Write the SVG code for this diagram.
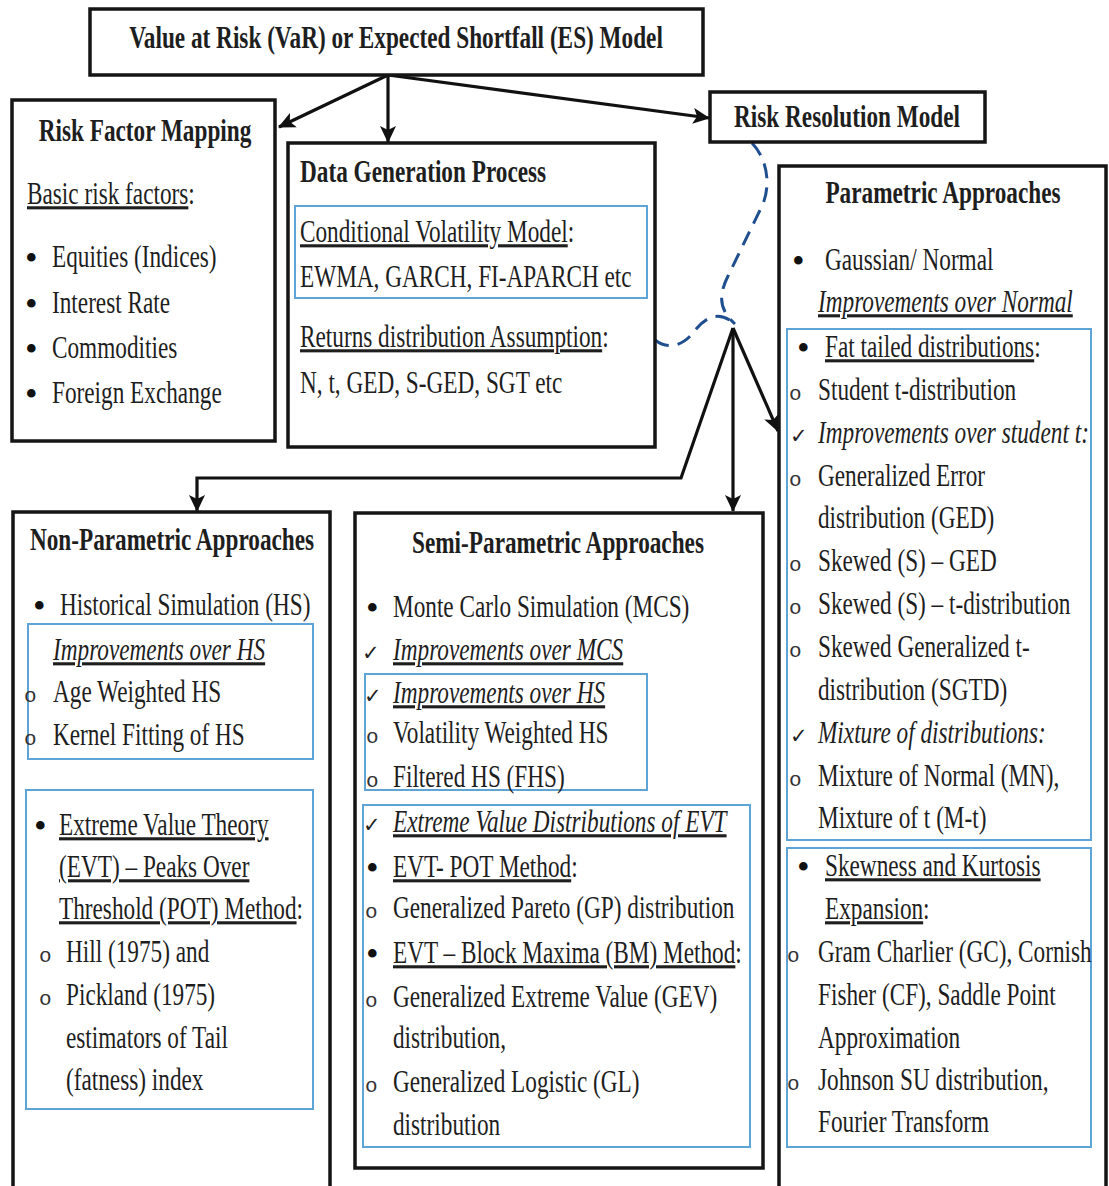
<svg xmlns="http://www.w3.org/2000/svg" width="1109" height="1186" viewBox="0 0 1109 1186">
<style>
.bg{fill:#fff}
.box{fill:#fff;stroke:#151515;stroke-width:3.5}
.blue{fill:none;stroke:#5ea4d6;stroke-width:2}
.t{font-family:"Liberation Serif","Times New Roman",serif;font-size:31px;fill:#1e1e1e}
.b{font-weight:bold}
.i{font-style:italic}
.u{text-decoration:underline}
.m{text-anchor:middle}
.d{font-family:"Liberation Serif","Times New Roman",serif;font-size:36px;fill:#111}
.o{font-family:"Liberation Mono","Courier New",monospace;font-size:21px;fill:#333}
.c{font-family:"DejaVu Sans",sans-serif;font-size:21px;fill:#222}
.con{fill:none;stroke:#111;stroke-width:3.2}
.dash{fill:none;stroke:#1f4f8f;stroke-width:3;stroke-dasharray:15 9}
</style>
<defs>
<marker id="ah" markerUnits="userSpaceOnUse" markerWidth="18" markerHeight="16" refX="16" refY="8" orient="auto">
<path d="M0,0 L17,8 L0,16 L4,8 z" fill="#111"/>
</marker>
</defs>
<rect class="bg" x="0" y="0" width="1109" height="1186"/>

<g id="connectors">
<line class="con" x1="388" y1="75" x2="279" y2="127" marker-end="url(#ah)"/>
<line class="con" x1="388" y1="75" x2="388" y2="142" marker-end="url(#ah)"/>
<line class="con" x1="388" y1="75" x2="709" y2="118" marker-end="url(#ah)"/>
<polyline class="con" points="733,328 681,478 197,478 197,511" marker-end="url(#ah)"/>
<line class="con" x1="733" y1="328" x2="733" y2="511" marker-end="url(#ah)"/>
<line class="con" x1="733" y1="328" x2="778" y2="431" marker-end="url(#ah)"/>
<path class="dash" d="M752,143 C768,160 771,186 762,206 L728,276 C719,294 718,309 735,324"/>
<path class="dash" d="M655,340 C668,350 682,346 693,333 C704,318 718,309 735,324"/>
</g>

<g id="n-var">
<rect class="box" x="90" y="9" width="613" height="66"/>
<text class="t b m" transform="translate(396 48) scale(.75 1)">Value at Risk (VaR) or Expected Shortfall (ES) Model</text>
</g>

<g id="n-rfm">
<rect class="box" x="12" y="100" width="263" height="341"/>
<text class="t b m" transform="translate(145 141) scale(.75 1)">Risk Factor Mapping</text>
<text class="t" transform="translate(27 204) scale(.75 1)"><tspan class="u">Basic risk factors</tspan>:</text>
<text class="d" x="25" y="270">•</text>
<text class="t" transform="translate(52 267) scale(.75 1)">Equities (Indices)</text>
<text class="d" x="25" y="316">•</text>
<text class="t" transform="translate(52 313) scale(.75 1)">Interest Rate</text>
<text class="d" x="25" y="361">•</text>
<text class="t" transform="translate(52 358) scale(.75 1)">Commodities</text>
<text class="d" x="25" y="406">•</text>
<text class="t" transform="translate(52 403) scale(.75 1)">Foreign Exchange</text>
</g>

<g id="n-dgp">
<rect class="box" x="288" y="143" width="367" height="304"/>
<text class="t b" transform="translate(300 182) scale(.75 1)">Data Generation Process</text>
<rect class="blue" x="295" y="206" width="352" height="92"/>
<text class="t" transform="translate(300 242) scale(.75 1)"><tspan class="u">Conditional Volatility Model</tspan>:</text>
<text class="t" transform="translate(300 287) scale(.75 1)">EWMA, GARCH, FI-APARCH etc</text>
<text class="t" transform="translate(300 347) scale(.75 1)"><tspan class="u">Returns distribution Assumption</tspan>:</text>
<text class="t" transform="translate(300 393) scale(.75 1)">N, t, GED, S-GED, SGT etc</text>
</g>

<g id="n-rrm">
<rect class="box" x="710" y="92" width="275" height="50"/>
<text class="t b m" transform="translate(847 127) scale(.75 1)">Risk Resolution Model</text>
</g>

<g id="n-param">
<rect class="box" x="779" y="166" width="327" height="1030"/>
<text class="t b m" transform="translate(943 203) scale(.75 1)">Parametric Approaches</text>
<text class="d" x="792" y="273">•</text>
<text class="t" transform="translate(825 270) scale(.75 1)">Gaussian/ Normal</text>
<text class="t i u" transform="translate(818 312) scale(.75 1)">Improvements over Normal</text>
<rect class="blue" x="787" y="329" width="304" height="511"/>
<text class="d" x="797" y="360">•</text>
<text class="t" transform="translate(825 357) scale(.75 1)"><tspan class="u">Fat tailed distributions</tspan>:</text>
<text class="o" x="789" y="400">o</text>
<text class="t" transform="translate(818 400) scale(.75 1)">Student t-distribution</text>
<text class="c" x="790" y="443">✓</text>
<text class="t i" transform="translate(818 443) scale(.75 1)">Improvements over student t:</text>
<text class="o" x="789" y="486">o</text>
<text class="t" transform="translate(818 486) scale(.75 1)">Generalized Error</text>
<text class="t" transform="translate(818 528) scale(.75 1)">distribution (GED)</text>
<text class="o" x="789" y="571">o</text>
<text class="t" transform="translate(818 571) scale(.75 1)">Skewed (S) – GED</text>
<text class="o" x="789" y="614">o</text>
<text class="t" transform="translate(818 614) scale(.75 1)">Skewed (S) – t-distribution</text>
<text class="o" x="789" y="657">o</text>
<text class="t" transform="translate(818 657) scale(.75 1)">Skewed Generalized t-</text>
<text class="t" transform="translate(818 700) scale(.75 1)">distribution (SGTD)</text>
<text class="c" x="790" y="743">✓</text>
<text class="t i" transform="translate(818 743) scale(.75 1)">Mixture of distributions:</text>
<text class="o" x="789" y="786">o</text>
<text class="t" transform="translate(818 786) scale(.75 1)">Mixture of Normal (MN),</text>
<text class="t" transform="translate(818 828) scale(.75 1)">Mixture of t (M-t)</text>
<rect class="blue" x="787" y="848" width="304" height="299"/>
<text class="d" x="797" y="879">•</text>
<text class="t u" transform="translate(825 876) scale(.75 1)">Skewness and Kurtosis</text>
<text class="t" transform="translate(825 919) scale(.75 1)"><tspan class="u">Expansion</tspan>:</text>
<text class="o" x="787" y="962">o</text>
<text class="t" transform="translate(818 962) scale(.75 1)">Gram Charlier (GC), Cornish</text>
<text class="t" transform="translate(818 1005) scale(.75 1)">Fisher (CF), Saddle Point</text>
<text class="t" transform="translate(818 1048) scale(.75 1)">Approximation</text>
<text class="o" x="787" y="1090">o</text>
<text class="t" transform="translate(818 1090) scale(.75 1)">Johnson SU distribution,</text>
<text class="t" transform="translate(818 1132) scale(.75 1)">Fourier Transform</text>
</g>

<g id="n-nonparam">
<rect class="box" x="13" y="512" width="317" height="690"/>
<text class="t b m" transform="translate(172 550) scale(.75 1)">Non-Parametric Approaches</text>
<text class="d" x="33" y="618">•</text>
<text class="t" transform="translate(60 615) scale(.75 1)">Historical Simulation (HS)</text>
<rect class="blue" x="28" y="624" width="285" height="135"/>
<text class="t i u" transform="translate(53 660) scale(.75 1)">Improvements over HS</text>
<text class="o" x="24" y="702">o</text>
<text class="t" transform="translate(53 702) scale(.75 1)">Age Weighted HS</text>
<text class="o" x="24" y="745">o</text>
<text class="t" transform="translate(53 745) scale(.75 1)">Kernel Fitting of HS</text>
<rect class="blue" x="26" y="790" width="287" height="319"/>
<text class="d" x="34" y="838">•</text>
<text class="t u" transform="translate(59 835) scale(.75 1)">Extreme Value Theory</text>
<text class="t u" transform="translate(59 877) scale(.75 1)">(EVT) – Peaks Over</text>
<text class="t" transform="translate(59 919) scale(.75 1)"><tspan class="u">Threshold (POT) Method</tspan>:</text>
<text class="o" x="39" y="962">o</text>
<text class="t" transform="translate(66 962) scale(.75 1)">Hill (1975) and</text>
<text class="o" x="39" y="1005">o</text>
<text class="t" transform="translate(66 1005) scale(.75 1)">Pickland (1975)</text>
<text class="t" transform="translate(66 1048) scale(.75 1)">estimators of Tail</text>
<text class="t" transform="translate(66 1090) scale(.75 1)">(fatness) index</text>
</g>

<g id="n-semiparam">
<rect class="box" x="355" y="513" width="408" height="655"/>
<text class="t b m" transform="translate(558 553) scale(.75 1)">Semi-Parametric Approaches</text>
<text class="d" x="366" y="620">•</text>
<text class="t" transform="translate(393 617) scale(.75 1)">Monte Carlo Simulation (MCS)</text>
<text class="c" x="362" y="660">✓</text>
<text class="t i u" transform="translate(393 660) scale(.75 1)">Improvements over MCS</text>
<rect class="blue" x="365" y="674" width="282" height="116"/>
<text class="c" x="364" y="703">✓</text>
<text class="t i u" transform="translate(393 703) scale(.75 1)">Improvements over HS</text>
<text class="o" x="366" y="743">o</text>
<text class="t" transform="translate(393 743) scale(.75 1)">Volatility Weighted HS</text>
<text class="o" x="366" y="787">o</text>
<text class="t" transform="translate(393 787) scale(.75 1)">Filtered HS (FHS)</text>
<rect class="blue" x="363" y="805" width="387" height="342"/>
<text class="c" x="363" y="832">✓</text>
<text class="t i u" transform="translate(393 832) scale(.75 1)">Extreme Value Distributions of EVT</text>
<text class="d" x="366" y="880">•</text>
<text class="t" transform="translate(393 877) scale(.75 1)"><tspan class="u">EVT- POT Method</tspan>:</text>
<text class="o" x="365" y="918">o</text>
<text class="t" transform="translate(393 918) scale(.75 1)">Generalized Pareto (GP) distribution</text>
<text class="d" x="366" y="966">•</text>
<text class="t" transform="translate(393 963) scale(.75 1)"><tspan class="u">EVT – Block Maxima (BM) Method</tspan>:</text>
<text class="o" x="365" y="1007">o</text>
<text class="t" transform="translate(393 1007) scale(.75 1)">Generalized Extreme Value (GEV)</text>
<text class="t" transform="translate(393 1048) scale(.75 1)">distribution,</text>
<text class="o" x="365" y="1092">o</text>
<text class="t" transform="translate(393 1092) scale(.75 1)">Generalized Logistic (GL)</text>
<text class="t" transform="translate(393 1135) scale(.75 1)">distribution</text>
</g>
</svg>
